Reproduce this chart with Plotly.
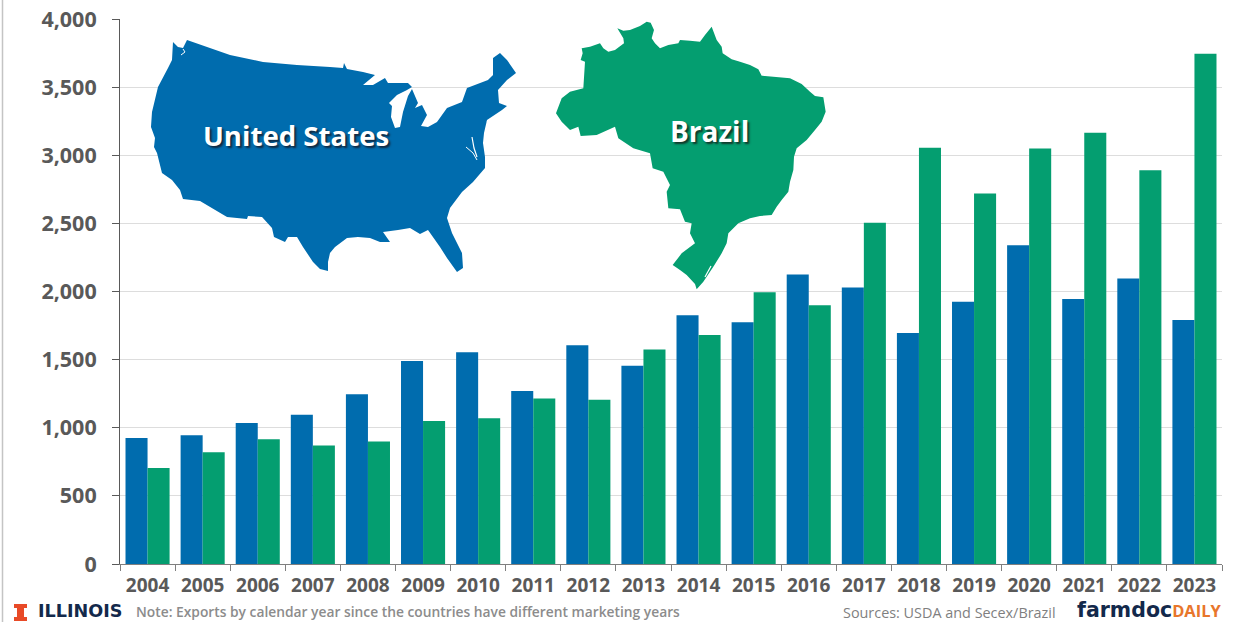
import plotly.graph_objects as go

years = [str(y) for y in range(2004, 2024)]
us_exports = [925, 945, 1035, 1095, 1245, 1490, 1555, 1270, 1605, 1455,
              1825, 1775, 2125, 2030, 1695, 1925, 2340, 1945, 2095, 1790]
brazil_exports = [705, 820, 915, 870, 900, 1050, 1070, 1215, 1205, 1575,
                  1680, 1995, 1900, 2505, 3055, 2720, 3050, 3165, 2890, 3745]
y_ticks = [0, 500, 1000, 1500, 2000, 2500, 3000, 3500, 4000]

BLUE = "#006CAE"
GREEN = "#049E70"
GRAY = "#595959"

W, H = 1239, 622
L, R, T, B = 120, 1222, 19, 564


def px(x):
    return (x - L) / (R - L)


def py(y):
    return (B - y) / (B - T)


# Decorative map silhouettes, traced in page pixels from zoomed crops
us_px = [(173,42),(178,47),(183,48),(187,40),(230,55),(263,62),(297,65),(330,67),(343,68),(344,63),(347,69),
         (363,72),(375,75),(363,85),(373,85),(385,78),(388,83),(408,83),(412,87),(407,90),(397,95),(389,103),
         (392,106),(391,117),(395,128),(400,127),(403,112),(408,96),(412,89),(418,103),(415,108),(422,105),
         (427,115),(421,126),(428,127),(437,122),(447,108),(462,102),(467,88),(488,80),(493,75),(493,58),
         (500,53),(507,60),(516,73),(507,80),(498,90),(499,103),(507,106),(502,110),(487,120),(484,133),
         (483,143),(485,157),(485,168),(473,182),(462,192),(450,208),(447,218),(452,233),(462,253),(463,268),
         (457,272),(447,258),(440,247),(428,230),(420,234),(410,228),(398,230),(383,232),(390,242),(380,242),
         (370,238),(358,237),(347,238),(335,247),(330,253),(328,262),(328,271),(320,269),(313,262),(303,247),
         (297,237),(288,237),(285,242),(274,237),(272,228),(262,217),(248,216),(247,219),(227,217),(200,201),
         (183,199),(180,190),(172,180),(162,173),(157,153),(154,147),(155,138),(151,127),(152,112),(158,87),
         (168,68),(172,60)]
chesapeake_a = [(472,137),(474,148),(477,157)]
chesapeake_b = [(466,147),(473,153),(477,160)]
long_island = [(487,122),(496,117)]
puget = [(181,55),(185,52),(183,49)]
brazil_outline = [(125,115),(150,110),(180,100),(190,115),(205,125),(225,120),(252,100),(250,85),(232,55),(250,62),
                  (270,60),(300,48),(320,35),(332,38),(342,60),(335,85),(345,100),(360,115),(385,105),(415,100),
                  (420,90),(450,92),(480,95),(495,75),(515,50),(530,90),(545,110),(548,130),(575,148),(600,155),
                  (630,165),(655,178),(665,197),(700,200),(750,205),(785,222),(810,245),(825,258),(850,262),
                  (857,305),(845,335),(825,360),(800,390),(770,415),(762,440),(760,480),(750,515),(745,545),
                  (725,570),(710,590),(695,615),(660,618),(630,625),(595,640),(565,670),(560,700),(545,730),
                  (520,770),(490,815),(470,838),(465,822),(440,795),(420,780),(398,765),(425,730),(465,700),
                  (450,670),(455,640),(435,635),(420,598),(385,595),(380,545),(390,525),(370,485),(338,475),
                  (330,430),(280,415),(235,385),(225,350),(170,375),(122,378),(115,350),(90,360),(65,335),(48,310),
                  (65,265),(90,245),(130,235),(135,155),(122,150),(128,130)]
br_px = [(540 + x / 3, 10 + y / 3) for x, y in brazil_outline]
lagoa = [(711, 266), (705, 277)]
block_i = [(14,604),(27,604),(27,608),(24,608),(24,617),(27,617),(27,621),(14,621),(14,617),(17,617),(17,608),(14,608)]


def path(points, close=True):
    return "M" + " L".join(f"{px(x):.5f},{py(y):.5f}" for x, y in points) + (" Z" if close else "")


fig = go.Figure()
fig.add_bar(x=years, y=us_exports, name="United States", marker=dict(color=BLUE, line_width=0))
fig.add_bar(x=years, y=brazil_exports, name="Brazil", marker=dict(color=GREEN, line_width=0))


def fill(points, color):
    return dict(type="path", xref="paper", yref="paper", path=path(points), fillcolor=color,
                line_width=0, layer="above")


def white_line(points, width=1.2):
    return dict(type="path", xref="paper", yref="paper", path=path(points, False),
                line=dict(color="white", width=width), layer="above")


shapes = [
    fill(us_px, BLUE),
    fill(br_px, GREEN),
    fill(block_i, "#E84A27"),
    white_line(chesapeake_a),
    white_line(chesapeake_b, 1),
    white_line(long_island),
    white_line(puget, 1),
    white_line(lagoa, 1.2),
    dict(type="line", xref="paper", yref="paper", x0=px(2.5), x1=px(2.5), y0=py(0), y1=py(H),
         line=dict(color="#C4C4C4", width=1.5), layer="above"),
]


def note(text, x, y, size, color, anchor="left", weight=400, family="Open Sans", shadow=None):
    font = dict(size=size, color=color, family=family, weight=weight)
    if shadow:
        font["shadow"] = shadow
    return dict(text=text, x=px(x), y=py(y), xref="paper", yref="paper", xanchor=anchor,
                yanchor="middle", showarrow=False, font=font)


annotations = [
    note("United States", 296, 135, 27.6, "white", "center", 700, shadow="2px 2px 2px #12283f"),
    note("Brazil", 709.5, 131, 28, "white", "center", 700, shadow="2px 2px 2px #12382a"),
    note("ILLINOIS", 36, 611, 17.6, "#13294B", weight=700, family="DejaVu Sans"),
    note("Note: Exports by calendar year since the countries have different marketing years",
         134, 611, 13.8, "#8C8C8C", weight=600),
    note("Sources: USDA and Secex/Brazil", 841, 612, 14.4, "#7F7F7F", weight=500),
    note("farmdoc<span style='color:#E8762C;font-size:16.5px;font-family:Open Sans'>DAILY</span>",
         1075, 610, 20.5, "#13294B", weight=700, family="DejaVu Sans"),
]

fig.update_layout(
    width=W, height=H, autosize=False,
    margin=dict(l=L, r=W - R, t=T, b=H - B, pad=0),
    paper_bgcolor="white", plot_bgcolor="white",
    barmode="group", bargap=0.2, bargroupgap=0,
    showlegend=False,
    shapes=shapes, annotations=annotations,
    xaxis=dict(type="category", tickson="boundaries", ticks="outside", ticklen=6, tickcolor="#7F7F7F",
               showline=True, linecolor="#7F7F7F", linewidth=1, showgrid=False, automargin=False,
               ticklabelstandoff=4,
               tickfont=dict(family="Open Sans", size=19, color=GRAY, weight=700)),
    yaxis=dict(range=[0, 4000], tickvals=y_ticks, tickformat=",d", ticks="outside", ticklen=7,
               tickcolor="#595959", showline=True, linecolor="#595959", linewidth=1,
               gridcolor="#DDDDDD", gridwidth=1, zeroline=False, automargin=False,
               ticklabelstandoff=11,
               tickfont=dict(family="Open Sans", size=21.5, color=GRAY, weight=700)),
)

fig.write_html("out.html", config=dict(displayModeBar=False),
               post_script="document.body.style.margin='0';document.body.style.overflow='hidden';")
